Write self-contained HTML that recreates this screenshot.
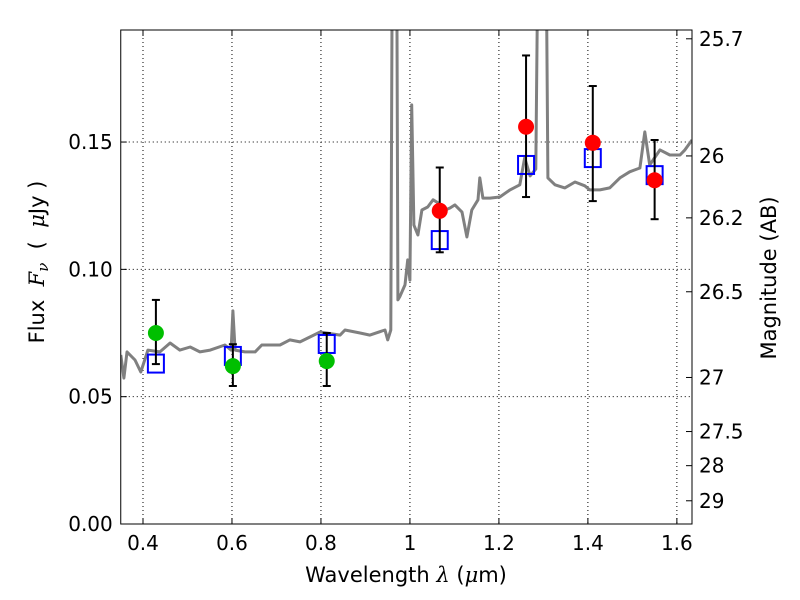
<!DOCTYPE html>
<html><head><meta charset="utf-8"><style>
body{margin:0;background:#fff;}
svg{display:block;font-family:"DejaVu Sans","Liberation Sans",sans-serif;}
</style></head><body>
<svg id="chart" width="800" height="600" viewBox="0 0 800 600"></svg>
<script>
const specLam=[0.35,0.357,0.364,0.382,0.395,0.411,0.438,0.461,0.483,0.506,0.528,0.551,0.584,0.598,0.602,0.607,0.629,0.652,0.667,0.708,0.730,0.753,0.798,0.843,0.854,0.888,0.910,0.944,0.950,0.957,0.962,0.969,0.973,0.977,0.989,0.995,1.000,1.004,1.009,1.018,1.027,1.040,1.052,1.067,1.079,1.090,1.101,1.117,1.128,1.139,1.153,1.157,1.164,1.180,1.202,1.225,1.247,1.258,1.270,1.283,1.292,1.303,1.310,1.326,1.348,1.371,1.393,1.404,1.427,1.449,1.472,1.494,1.517,1.528,1.539,1.562,1.584,1.607,1.618,1.634];
const specFlux=[0.0664,0.0573,0.0676,0.0644,0.0597,0.0683,0.0676,0.0711,0.0683,0.0695,0.0676,0.0683,0.0703,0.0683,0.0837,0.0683,0.0676,0.0676,0.0703,0.0703,0.0723,0.0715,0.0754,0.0742,0.0762,0.0750,0.0742,0.0762,0.0723,0.0762,0.3,0.3,0.088,0.0892,0.0939,0.1037,0.0958,0.1646,0.1174,0.1135,0.1233,0.1245,0.1273,0.1257,0.1233,0.1241,0.1253,0.1225,0.1127,0.1233,0.1273,0.1359,0.1280,0.1280,0.1284,0.1312,0.1332,0.1438,0.1367,0.1394,0.3,0.3,0.1359,0.1332,0.1320,0.1343,0.1328,0.1312,0.1312,0.1320,0.1359,0.1383,0.1398,0.154,0.141,0.1469,0.1449,0.1449,0.1469,0.1508];
const obsLam=[0.429,0.602,0.813,1.067,1.261,1.411,1.550];
const obsFlux=[0.075,0.062,0.064,0.123,0.156,0.1497,0.135];
const obsHi=[0.088,0.0706,0.0750,0.140,0.184,0.172,0.1508];
const obsLo=[0.0628,0.0542,0.0542,0.1067,0.1284,0.1268,0.1197];
const obsColor=['#00bf00','#00bf00','#00bf00','#ff0000','#ff0000','#ff0000','#ff0000'];
const modelFlux=[0.063,0.066,0.0707,0.1115,0.141,0.1437,0.137];
const xTicks=[0.4,0.6,0.8,1.0,1.2,1.4,1.6];
const xTickLabels=['0.4','0.6','0.8','1','1.2','1.4','1.6'];
const yTicks=[0,0.05,0.10,0.15];
const yTickLabels=['0.00','0.05','0.10','0.15'];
const magTicks=[25.7,26,26.2,26.5,27,27.5,28,29];
const magTickLabels=['25.7','26','26.2','26.5','27','27.5','28','29'];

const L=120.75,R=692,T=30,B=524,X0=0.35,X1=1.634,Y0=0,Y1=0.194;
const sx=v=>L+(v-X0)/(X1-X0)*(R-L);
const sy=v=>B-(v-Y0)/(Y1-Y0)*(B-T);
const NS='http://www.w3.org/2000/svg';
const svg=document.getElementById('chart');
function mk(tag,attrs,parent){const e=document.createElementNS(NS,tag);for(const k in attrs)e.setAttribute(k,attrs[k]);(parent||svg).appendChild(e);return e;}
const defs=mk('defs',{});const cp=mk('clipPath',{id:'pc'},defs);mk('rect',{x:L,y:T,width:R-L,height:B-T},cp);

xTicks.forEach(t=>{const g=mk('line',{x1:sx(t),x2:sx(t),y1:T,y2:B,stroke:'#000','stroke-width':1,'stroke-dasharray':'1,3'});

});
yTicks.forEach(t=>{const g=mk('line',{x1:L,x2:R,y1:sy(t),y2:sy(t),stroke:'#000','stroke-width':1,'stroke-dasharray':'1,3'});

});

const pts=specLam.map((l,i)=>sx(l).toFixed(1)+','+sy(specFlux[i]).toFixed(1)).join(' ');
const sp=mk('polyline',{points:pts,fill:'none',stroke:'#808080','stroke-width':3,'clip-path':'url(#pc)','stroke-linejoin':'round'});



modelFlux.forEach((f,i)=>{const s=mk('rect',{x:sx(obsLam[i])-8,y:sy(f)-9,width:16,height:18,fill:'none',stroke:'#0000ff','stroke-width':2});

});
obsLam.forEach((l,i)=>{const x=sx(l);
const g=mk('g',{});


mk('line',{x1:x,x2:x,y1:sy(obsHi[i]),y2:sy(obsLo[i]),stroke:'#000','stroke-width':2},g);
mk('line',{x1:x-4,x2:x+4,y1:sy(obsHi[i]),y2:sy(obsHi[i]),stroke:'#000','stroke-width':2},g);
mk('line',{x1:x-4,x2:x+4,y1:sy(obsLo[i]),y2:sy(obsLo[i]),stroke:'#000','stroke-width':2},g);
const c=mk('circle',{cx:x,cy:sy(obsFlux[i]),r:8,fill:obsColor[i]});

});

const fr=mk('rect',{x:L,y:T,width:R-L,height:B-T,fill:'none',stroke:'#000','stroke-width':1});


xTicks.forEach((t,i)=>{const x=sx(t);
mk('line',{x1:x,x2:x,y1:B,y2:B-6,stroke:'#000'});mk('line',{x1:x,x2:x,y1:T,y2:T+6,stroke:'#000'});
const tx=mk('text',{x:x,y:B+26,'font-size':20,'text-anchor':'middle'});tx.textContent=xTickLabels[i];

});
yTicks.forEach((t,i)=>{const y=sy(t);
mk('line',{x1:L,x2:L+6,y1:y,y2:y,stroke:'#000'});
const tx=mk('text',{x:L-8,y:y+7,'font-size':20,'text-anchor':'end'});tx.textContent=yTickLabels[i];

});
magTicks.forEach((m,i)=>{const y=sy(Math.pow(10,(23.9-m)/2.5));
mk('line',{x1:R,x2:R-6,y1:y,y2:y,stroke:'#000'});
const tx=mk('text',{x:R+7,y:y+7,'font-size':20});tx.textContent=magTickLabels[i];

});
</script>
<svg style="position:absolute;left:0;top:0" width="800" height="600">
<text x="406" y="582" font-size="21" text-anchor="middle" font-family="DejaVu Sans, sans-serif">Wavelength  <tspan font-style="italic" font-family="DejaVu Serif, serif">λ</tspan> (<tspan font-style="italic" font-family="DejaVu Serif, serif">μ</tspan>m)</text>
<text transform="translate(44,262) rotate(-90)" font-size="21" text-anchor="middle" font-family="DejaVu Sans, sans-serif" xml:space="preserve">Flux  <tspan font-style="italic" font-family="DejaVu Serif, serif">F</tspan><tspan font-style="italic" font-size="15" dy="4" font-family="DejaVu Serif, serif">ν</tspan><tspan dy="-4">  (  </tspan><tspan font-style="italic" font-family="DejaVu Serif, serif">μ</tspan>Jy )</text>
<text transform="translate(776,278) rotate(-90)" font-size="21" text-anchor="middle" font-family="DejaVu Sans, sans-serif">Magnitude (AB)</text>
</svg>
</body></html>
